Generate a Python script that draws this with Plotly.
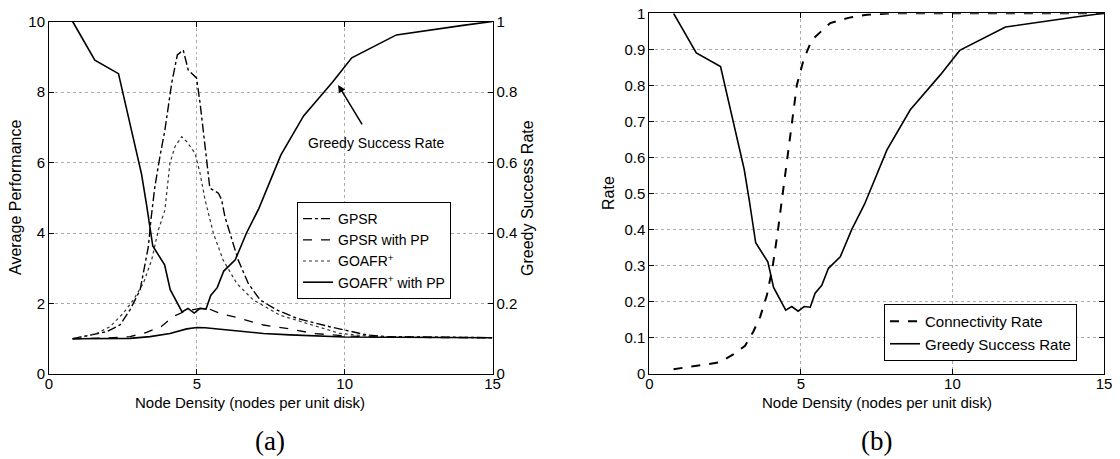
import plotly.graph_objects as go

# ---------------- data ----------------
# Greedy success rate (shared by (a) right axis and (b))
greedy_x = [0.8, 1.55, 2.35, 3.13, 3.30, 3.51, 3.91, 4.10, 4.50, 4.70, 4.91, 5.11, 5.31, 5.47, 5.69, 5.91, 6.30, 6.68, 7.10, 7.84, 8.61, 9.60, 10.24, 11.75, 14.0, 15.0]
greedy_y = [1.0, 0.89, 0.852, 0.567, 0.48, 0.363, 0.31, 0.239, 0.176, 0.186, 0.173, 0.186, 0.184, 0.223, 0.245, 0.292, 0.324, 0.40, 0.47, 0.621, 0.732, 0.829, 0.897, 0.962, 0.989, 1.0]

# Connectivity rate (b)
conn_x = [0.8, 1.67, 2.33, 2.77, 3.16, 3.43, 3.66, 3.88, 4.07, 4.23, 4.37, 4.65, 4.87, 5.09, 5.36, 5.97, 6.6, 7.18, 8.0, 10.0, 15.0]
conn_y = [0.012, 0.022, 0.031, 0.053, 0.077, 0.116, 0.158, 0.218, 0.297, 0.389, 0.48, 0.667, 0.802, 0.871, 0.926, 0.973, 0.988, 0.996, 1.0, 1.0, 1.0]

# Average performance (a)
gpsr_x = [0.8, 1.39, 1.95, 2.40, 2.74, 3.08, 3.36, 3.45, 3.58, 3.75, 3.92, 4.15, 4.34, 4.54, 4.71, 4.99, 5.11, 5.28, 5.44, 5.73, 5.84, 5.95, 6.12, 6.40, 6.74, 7.14, 7.70, 8.38, 9.50, 10.74, 11.42, 13.0, 15.0]
gpsr_y = [1.0, 1.11, 1.20, 1.39, 1.82, 2.38, 3.61, 4.40, 5.31, 6.16, 6.92, 8.25, 9.05, 9.19, 8.62, 8.40, 7.68, 6.45, 5.27, 5.13, 4.94, 4.46, 3.99, 3.23, 2.57, 2.10, 1.82, 1.58, 1.34, 1.11, 1.06, 1.04, 1.03]

goafr_x = [0.8, 1.61, 2.06, 2.51, 2.85, 3.19, 3.47, 3.70, 3.92, 4.03, 4.09, 4.26, 4.49, 4.66, 4.94, 5.11, 5.28, 5.56, 5.89, 6.35, 6.91, 7.81, 8.94, 9.84, 11.0, 15.0]
goafr_y = [1.0, 1.15, 1.34, 1.72, 2.10, 2.57, 3.23, 4.09, 4.65, 5.50, 5.98, 6.45, 6.73, 6.59, 6.26, 5.69, 4.94, 3.99, 3.23, 2.57, 2.10, 1.67, 1.39, 1.15, 1.06, 1.03]

gpsrpp_x = [0.8, 1.5, 2.0, 2.74, 3.3, 3.8, 4.20, 4.6, 5.11, 5.4, 5.78, 6.46, 7.25, 8.15, 8.94, 10.07, 11.5, 15.0]
gpsrpp_y = [1.0, 1.01, 1.02, 1.06, 1.18, 1.35, 1.63, 1.78, 1.86, 1.85, 1.72, 1.58, 1.39, 1.28, 1.15, 1.08, 1.04, 1.03]

goafrpp_x = [0.8, 2.0, 2.74, 3.42, 4.09, 4.66, 5.0, 5.28, 6.12, 7.25, 8.15, 10.0, 15.0]
goafrpp_y = [1.0, 1.0, 1.01, 1.06, 1.15, 1.28, 1.32, 1.31, 1.25, 1.15, 1.11, 1.05, 1.03]

x_ticks = [0, 5, 10, 15]
perf_ticks = [0, 2, 4, 6, 8, 10]
gsr_ticks = [0, 0.2, 0.4, 0.6, 0.8, 1]
rate_ticks = [0, 0.1, 0.2, 0.3, 0.4, 0.5, 0.6, 0.7, 0.8, 0.9, 1]

# ---------------- figure ----------------
# page has an 8px body margin, so the figure is drawn 8px in and shrunk accordingly
OFF = 8
W, H = 1120 - OFF, 459 - OFF
FONT = "Liberation Sans"


def px(x):
    return (x - OFF) / W


def py(y):
    return (H - (y - OFF)) / H


fig = go.Figure()

fig.add_trace(go.Scatter(x=gpsr_x, y=gpsr_y, mode="lines", name="GPSR",
                         line=dict(color="black", width=1.4, dash="dashdot"),
                         xaxis="x", yaxis="y", legend="legend"))
fig.add_trace(go.Scatter(x=gpsrpp_x, y=gpsrpp_y, mode="lines", name="GPSR with PP",
                         line=dict(color="black", width=1.3, dash="dash"),
                         xaxis="x", yaxis="y", legend="legend"))
fig.add_trace(go.Scatter(x=goafr_x, y=goafr_y, mode="lines", name="GOAFR<sup>+</sup>",
                         line=dict(color="#333333", width=1.2, dash="dot"),
                         xaxis="x", yaxis="y", legend="legend"))
fig.add_trace(go.Scatter(x=goafrpp_x, y=goafrpp_y, mode="lines", name="GOAFR<sup>+</sup> with PP",
                         line=dict(color="black", width=1.6),
                         xaxis="x", yaxis="y", legend="legend"))
fig.add_trace(go.Scatter(x=greedy_x, y=greedy_y, mode="lines", name="Greedy Success Rate",
                         line=dict(color="black", width=1.6), showlegend=False,
                         xaxis="x", yaxis="y2"))

fig.add_trace(go.Scatter(x=conn_x, y=conn_y, mode="lines", name="Connectivity Rate",
                         line=dict(color="black", width=2, dash="dash"),
                         xaxis="x2", yaxis="y3", legend="legend2"))
fig.add_trace(go.Scatter(x=greedy_x, y=greedy_y, mode="lines", name="Greedy Success Rate",
                         line=dict(color="black", width=1.6),
                         xaxis="x2", yaxis="y3", legend="legend2"))

ax_common = dict(showline=True, linecolor="black", linewidth=1, ticks="inside", ticklen=5,
                 tickcolor="black", zeroline=False, showgrid=True, gridcolor="#aaaaaa",
                 griddash="dot", gridwidth=1, automargin=False, ticklabeloverflow="allow",
                 tickfont=dict(family=FONT, size=15, color="black"))

xa_dom = [px(49), px(492.5)]
ya_dom = [py(374), py(21.5)]
xb_dom = [px(649.3), px(1104)]
yb_dom = [py(373.5), py(13.3)]

fig.update_layout(
    width=W, height=H, margin=dict(l=0, r=0, t=0, b=0, autoexpand=False),
    paper_bgcolor="white", plot_bgcolor="white",
    font=dict(family=FONT, color="black"),
    xaxis=dict(ax_common, domain=xa_dom, range=[0, 15], tickvals=x_ticks, mirror="ticks",
               anchor="y", ticklabelstandoff=-4),
    yaxis=dict(ax_common, domain=ya_dom, range=[0, 10], tickvals=perf_ticks, anchor="x"),
    yaxis2=dict(ax_common, domain=ya_dom, range=[0, 1], tickvals=gsr_ticks, overlaying="y",
                side="right", anchor="x", showgrid=False),
    xaxis2=dict(ax_common, domain=xb_dom, range=[0, 15], tickvals=x_ticks, mirror="ticks",
                anchor="y3", ticklabelstandoff=-4),
    yaxis3=dict(ax_common, domain=yb_dom, range=[0, 1], tickvals=rate_ticks, mirror="ticks",
                anchor="x2"),
    legend=dict(x=px(297), y=py(202), xanchor="left", yanchor="top",
                bgcolor="white", bordercolor="black", borderwidth=1,
                font=dict(family=FONT, size=14), tracegroupgap=0, itemwidth=30),
    legend2=dict(x=px(884), y=py(304), xanchor="left", yanchor="top",
                 bgcolor="white", bordercolor="black", borderwidth=1,
                 font=dict(family=FONT, size=15), tracegroupgap=0, itemwidth=30),
    showlegend=True,
)


# axis titles
def title(text, x, y, angle=0, size=15):
    fig.add_annotation(x=px(x), y=py(y), xref="paper", yref="paper", text=text,
                       textangle=angle, showarrow=False, xanchor="center", yanchor="middle",
                       font=dict(family=FONT, size=size, color="black"))


title("Node Density (nodes per unit disk)", 250, 402)
title("Average Performance", 15, 198, -90, 16)
title("Greedy Success Rate", 527, 198, -90, 16)
title("Node Density (nodes per unit disk)", 877, 402)
title("Rate", 609, 193, -90, 16)

fig.add_annotation(x=9.78, y=8.2, ax=10.62, ay=7.04, xref="x", yref="y", axref="x", ayref="y",
                   text="", showarrow=True, arrowhead=2, arrowsize=1, arrowwidth=1.5,
                   arrowcolor="black")
fig.add_annotation(x=11.06, y=6.55, xref="x", yref="y", text="Greedy Success Rate",
                   showarrow=False, font=dict(family=FONT, size=14, color="black"))

fig.add_annotation(x=px(270), y=py(441), xref="paper", yref="paper", text="(a)",
                   xanchor="center", yanchor="middle", showarrow=False,
                   font=dict(family="Liberation Serif", size=27, color="black"))
fig.add_annotation(x=px(876), y=py(441), xref="paper", yref="paper", text="(b)",
                   xanchor="center", yanchor="middle", showarrow=False,
                   font=dict(family="Liberation Serif", size=27, color="black"))

fig.write_html("out.html")
